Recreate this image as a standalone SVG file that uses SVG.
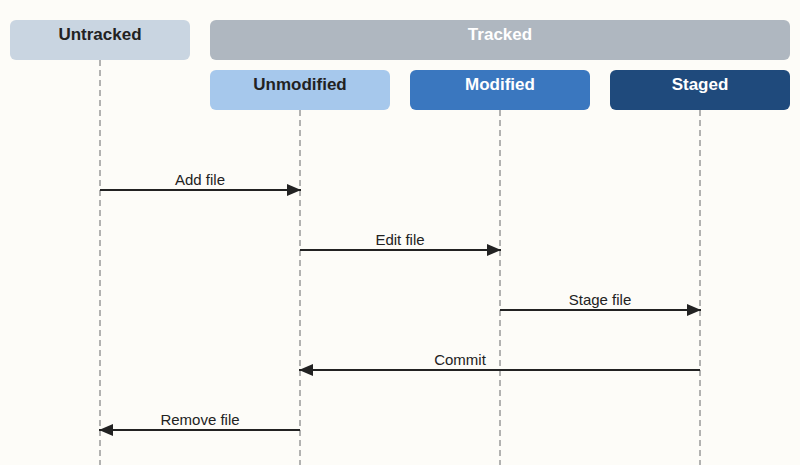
<svg xmlns="http://www.w3.org/2000/svg" width="800" height="465" viewBox="0 0 800 465">
<defs>
<style>
.h{font-family:"Liberation Sans",Arial,sans-serif;font-weight:bold;font-size:17px;text-anchor:middle}
.l{font-family:"Liberation Sans",Arial,sans-serif;font-size:15px;text-anchor:middle;fill:#222}
.life{stroke:#999;stroke-width:1.5;stroke-dasharray:6 4}
.m{stroke:#222;stroke-width:2;fill:none}
</style>
<marker id="a" markerWidth="14" markerHeight="12" refX="14" refY="6" orient="auto" markerUnits="userSpaceOnUse"><path d="M0,0L14,6L0,12Z" fill="#222"/></marker>
</defs>
<rect width="800" height="465" fill="#fdfcf8"/>
<g id="lifelines">
<line class="life" x1="100" y1="60" x2="100" y2="465"/>
<line class="life" x1="300" y1="110" x2="300" y2="465"/>
<line class="life" x1="500" y1="110" x2="500" y2="465"/>
<line class="life" x1="700" y1="110" x2="700" y2="465"/>
</g>
<g id="untracked"><rect x="10" y="20" width="180" height="40" rx="6" fill="#c9d5e1"/><text class="h" x="100" y="40" fill="#222">Untracked</text></g>
<g id="tracked"><rect x="210" y="20" width="580" height="40" rx="6" fill="#afb7c0"/><text class="h" x="500" y="40" fill="#fff">Tracked</text></g>
<g id="unmodified"><rect x="210" y="70" width="180" height="40" rx="6" fill="#a6c8ec"/><text class="h" x="300" y="90" fill="#222">Unmodified</text></g>
<g id="modified"><rect x="410" y="70" width="180" height="40" rx="6" fill="#3a77bf"/><text class="h" x="500" y="90" fill="#fff">Modified</text></g>
<g id="staged"><rect x="610" y="70" width="180" height="40" rx="6" fill="#1f4a7c"/><text class="h" x="700" y="90" fill="#fff">Staged</text></g>
<g id="connectors">
<line class="m" x1="100" y1="190" x2="301" y2="190" marker-end="url(#a)"/><text class="l" x="200" y="185">Add file</text>
<line class="m" x1="300" y1="250" x2="501" y2="250" marker-end="url(#a)"/><text class="l" x="400" y="245">Edit file</text>
<line class="m" x1="500" y1="310" x2="701" y2="310" marker-end="url(#a)"/><text class="l" x="600" y="305">Stage file</text>
<line class="m" x1="700" y1="370" x2="299" y2="370" marker-end="url(#a)"/><text class="l" x="460" y="365">Commit</text>
<line class="m" x1="300" y1="430" x2="99" y2="430" marker-end="url(#a)"/><text class="l" x="200" y="425">Remove file</text>
</g>
</svg>
